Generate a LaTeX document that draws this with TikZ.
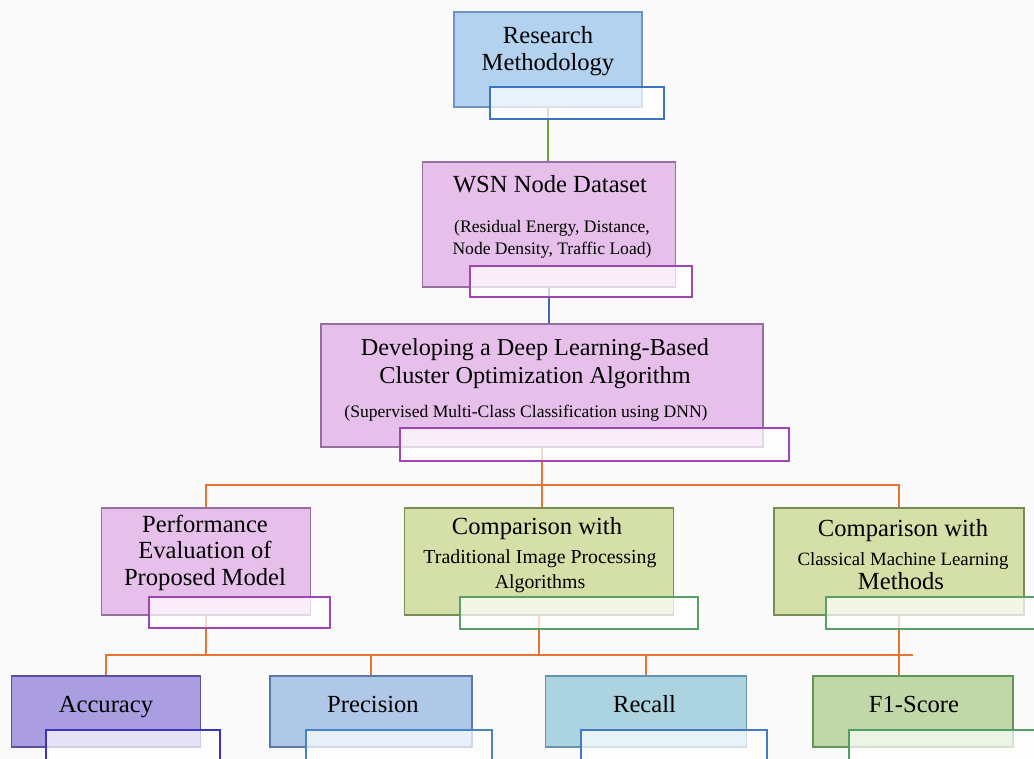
\documentclass[tikz,border=0pt]{standalone}
\usepackage{fontspec}
\setmainfont{Liberation Serif}
\usetikzlibrary{calc,positioning}

\definecolor{bgcol}{RGB}{250,250,251}
\definecolor{rmfill}{RGB}{178,210,240}
\definecolor{rmline}{RGB}{112,148,190}
\definecolor{rmtag}{RGB}{60,115,195}
\definecolor{orfill}{RGB}{230,192,235}
\definecolor{orline}{RGB}{150,110,160}
\definecolor{ortag}{RGB}{160,70,180}
\definecolor{lgfill}{RGB}{212,224,168}
\definecolor{lgline}{RGB}{120,140,90}
\definecolor{lgtag}{RGB}{90,160,100}
\definecolor{acfill}{RGB}{170,158,224}
\definecolor{acline}{RGB}{90,80,160}
\definecolor{actag}{RGB}{60,50,200}
\definecolor{prfill}{RGB}{176,200,232}
\definecolor{prline}{RGB}{90,120,170}
\definecolor{prtag}{RGB}{70,130,200}
\definecolor{refill}{RGB}{172,212,224}
\definecolor{reline}{RGB}{100,150,175}
\definecolor{retag}{RGB}{70,120,200}
\definecolor{fsfill}{RGB}{192,216,168}
\definecolor{fsline}{RGB}{100,150,90}
\definecolor{fstag}{RGB}{80,160,100}
\definecolor{wgreen}{RGB}{120,160,60}
\definecolor{wblue}{RGB}{70,100,180}
\definecolor{worange}{RGB}{230,115,50}

\newcommand{\headfont}{\fontsize{14}{15.5}\selectfont}
\newcommand{\subfont}{\fontsize{10}{13}\selectfont}

\begin{document}
\begin{tikzpicture}[x=0.02cm,y=-0.02cm,
	box/.style={draw,rectangle,line width=0.8pt,inner sep=0pt},
	tag/.style={draw,rectangle,fill=white,fill opacity=0.72,line width=1pt,inner sep=0pt},
	wire/.style={line width=1.1pt},
	txt/.style={anchor=base,align=center,inner sep=0pt}]
	\useasboundingbox (0,0) rectangle (1034,759);
	\clip (0,0) rectangle (1034,759);
	\fill[bgcol] (0,0) rectangle (1034,759);

	% boxes
	\node[box,fill=rmfill,draw=rmline,minimum width=3.76cm,minimum height=1.90cm] (rm) at (548,59.5) {};
	\node[box,fill=orfill,draw=orline,minimum width=5.06cm,minimum height=2.50cm] (wsn) at (549,224.5) {};
	\node[box,fill=orfill,draw=orline,minimum width=8.84cm,minimum height=2.46cm] (dnn) at (542,385.5) {};
	\node[box,fill=orfill,draw=orline,minimum width=4.18cm,minimum height=2.14cm] (perf) at (206,561.5) {};
	\node[box,fill=lgfill,draw=lgline,minimum width=5.38cm,minimum height=2.14cm] (trad) at (539,561.5) {};
	\node[box,fill=lgfill,draw=lgline,minimum width=5.00cm,minimum height=2.14cm] (cls) at (899,561.5) {};
	\node[box,fill=acfill,draw=acline,minimum width=3.78cm,minimum height=1.42cm] (acc) at (106,711.5) {};
	\node[box,fill=prfill,draw=prline,minimum width=4.04cm,minimum height=1.42cm] (prec) at (371,711.5) {};
	\node[box,fill=refill,draw=reline,minimum width=4.02cm,minimum height=1.42cm] (rec) at (646,711.5) {};
	\node[box,fill=fsfill,draw=fsline,minimum width=4.00cm,minimum height=1.42cm] (f1) at (913,711.5) {};

	% connectors
	\draw[wire,wgreen] (rm.south) -- (rm.south |- wsn.north);
	\draw[wire,wblue] (wsn.south) -- (wsn.south |- dnn.north);
	\draw[wire,worange] (dnn.south) -- ++(0,37) coordinate (hub_a);
	\draw[wire,worange] (perf.north) |- (hub_a) -| (cls.north);
	\draw[wire,worange] (hub_a) -- (hub_a |- trad.north);
	\draw[wire,worange] (perf.south) -- ++(0,39) coordinate (hub_b);
	\draw[wire,worange] (acc.north) |- (hub_b) -- (hub_b -| f1.north);
	\draw[wire,worange] (trad.south) -- (trad.south |- hub_b);
	\draw[wire,worange] (prec.north) -- (prec.north |- hub_b);
	\draw[wire,worange] (rec.north) -- (rec.north |- hub_b);
	\draw[wire,worange] (cls.south) -- (cls.south |- f1.north);

	% texts
	\node[txt,font=\headfont] (rm_txt) at (548,71) {Research\\Methodology};
	\node[txt,font=\headfont] (wsn_ttl) at (550,193) {WSN Node Dataset};
	\node[txt,font=\subfont] (wsn_sub) at (552,255) {(Residual Energy, Distance,\\Node Density, Traffic Load)};
	\node[txt,font=\fontsize{13.8}{16.4}\selectfont] (dnn_ttl) at (535,384) {Developing a Deep Learning-Based\\Cluster Optimization Algorithm};
	\node[txt,font=\subfont] (dnn_sub) at (526,418) {(Supervised Multi-Class Classification using DNN)};
	\node[txt,font=\fontsize{14}{14.8}\selectfont] (perf_txt) at (205,585) {Performance\\Evaluation of\\Proposed Model};
	\node[txt,font=\headfont] (trad_ttl) at (537,535) {Comparison with};
	\node[txt,font=\fontsize{11.3}{14.2}\selectfont] (trad_sub) at (540,588) {Traditional Image Processing\\Algorithms};
	\node[txt,font=\headfont] (cls_ttl) at (903,537) {Comparison with};
	\node[txt,font=\fontsize{10.7}{13}\selectfont] (cls_sub) at (903,565) {Classical Machine Learning};
	\node[txt,font=\headfont] (cls_end) at (901,589) {Methods};
	\node[txt,font=\headfont] (acc_txt) at (106,712) {Accuracy};
	\node[txt,font=\headfont] (prec_txt) at (373,712) {Precision};
	\node[txt,font=\headfont] (rec_txt) at (644.5,712) {Recall};
	\node[txt,font=\headfont] (f1_txt) at (914,712) {F1-Score};

	% overlay tags
	\node[tag,draw=rmtag,minimum width=3.48cm,minimum height=0.64cm] (rm_tag) at (577,103) {};
	\node[tag,draw=ortag,minimum width=4.44cm,minimum height=0.62cm] (wsn_tag) at (581,281.5) {};
	\node[tag,draw=ortag,minimum width=7.78cm,minimum height=0.66cm] (dnn_tag) at (594.5,444.5) {};
	\node[tag,draw=ortag,minimum width=3.62cm,minimum height=0.62cm] (perf_tag) at (239.5,612.5) {};
	\node[tag,draw=lgtag,minimum width=4.76cm,minimum height=0.64cm] (trad_tag) at (579,613) {};
	\node[tag,draw=lgtag,minimum width=4.80cm,minimum height=0.64cm] (cls_tag) at (946,613) {};
	\node[tag,draw=actag,minimum width=3.48cm,minimum height=0.64cm] (acc_tag) at (133,746) {};
	\node[tag,draw=prtag,minimum width=3.72cm,minimum height=0.64cm] (prec_tag) at (399,746) {};
	\node[tag,draw=retag,minimum width=3.72cm,minimum height=0.64cm] (rec_tag) at (674,746) {};
	\node[tag,draw=fstag,minimum width=3.72cm,minimum height=0.64cm] (f1_tag) at (942,746) {};
\end{tikzpicture}
\end{document}
